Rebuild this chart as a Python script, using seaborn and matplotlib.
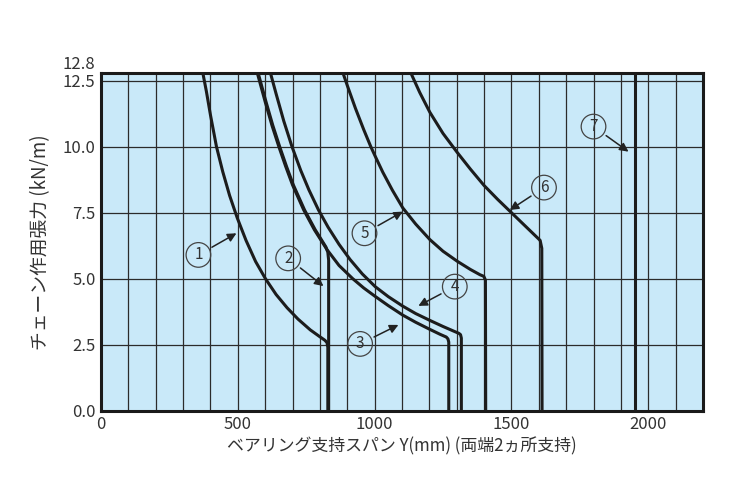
import numpy as np
import pandas as pd
import matplotlib
matplotlib.use("Agg")
import matplotlib.pyplot as plt
import seaborn as sns

# ---- data ----
c1_span = [372, 385, 400, 422, 445, 470, 498, 530, 565, 601, 640, 680, 720, 765, 800, 818, 826, 829, 829]
c1_tens = [12.8, 12.1, 11.2, 10.0, 9.05, 8.15, 7.3, 6.45, 5.65, 5.0, 4.4, 3.9, 3.47, 3.06, 2.8, 2.67, 2.58, 2.4, 0.0]

c2_span = [574, 603, 628, 653, 678, 703, 744, 783, 810, 822, 829, 832, 832]
c2_tens = [12.8, 11.7, 10.8, 10.0, 9.25, 8.55, 7.6, 6.85, 6.4, 6.2, 6.0, 5.7, 0.0]

c3_span = [571, 600, 625, 650, 675, 700, 741, 780, 826, 870, 920, 960, 1002, 1050, 1103, 1150, 1202, 1240, 1262, 1268, 1271, 1271]
c3_tens = [12.8, 11.7, 10.8, 10.0, 9.25, 8.55, 7.6, 6.85, 6.1, 5.5, 5.0, 4.65, 4.33, 3.98, 3.62, 3.35, 3.08, 2.89, 2.79, 2.72, 2.6, 0.0]

c4_span = [619, 640, 668, 698, 730, 760, 795, 830, 870, 910, 955, 1002, 1050, 1103, 1150, 1202, 1250, 1290, 1308, 1314, 1317, 1317]
c4_tens = [12.8, 12.0, 10.97, 10.0, 9.1, 8.36, 7.6, 6.95, 6.3, 5.73, 5.18, 4.70, 4.32, 3.96, 3.68, 3.42, 3.19, 3.01, 2.93, 2.88, 2.75, 0.0]

c5_span = [884, 901, 930, 960, 986, 1002, 1030, 1065, 1103, 1150, 1202, 1250, 1302, 1350, 1385, 1399, 1405, 1406]
c5_tens = [12.8, 12.29, 11.45, 10.65, 10.0, 9.64, 9.03, 8.35, 7.68, 7.07, 6.48, 6.04, 5.66, 5.35, 5.15, 5.09, 4.95, 0.0]

c6_span = [1132, 1165, 1202, 1250, 1302, 1350, 1400, 1450, 1500, 1550, 1590, 1605, 1611, 1612]
c6_tens = [12.8, 12.05, 11.3, 10.5, 9.78, 9.15, 8.53, 8.0, 7.5, 7.0, 6.6, 6.45, 6.15, 0.0]

c7_span = [1950, 1950]
c7_tens = [12.8, 0.0]

curve_ids = ["1", "2", "3", "4", "5", "6", "7"]

# label (circle) positions and arrow tips, in data units
label_x = [356, 684, 947, 1293, 963, 1619, 1800]
label_y = [5.9, 5.77, 2.53, 4.7, 6.72, 8.45, 10.76]
tip_x = [495, 813, 1087, 1160, 1103, 1494, 1928]
tip_y = [6.72, 4.72, 3.25, 3.97, 7.54, 7.6, 9.81]

x_ticks = [0, 500, 1000, 1500, 2000]
y_ticks = [0.0, 2.5, 5.0, 7.5, 10.0, 12.5, 12.8]
y_tick_labels = ["0.0", "2.5", "5.0", "7.5", "10.0", "12.5", "12.8"]

x_label = "ベアリング支持スパン Y(mm) (両端2ヵ所支持)"
y_label = "チェーン作用張力 (kN/m)"

# ---- build table ----
spans = [c1_span, c2_span, c3_span, c4_span, c5_span, c6_span, c7_span]
tens = [c1_tens, c2_tens, c3_tens, c4_tens, c5_tens, c6_tens, c7_tens]
frames = []
for cid, xs, ys in zip(curve_ids, spans, tens):
    frames.append(pd.DataFrame({"span": xs, "tension": ys, "curve": cid}))
df = pd.concat(frames, ignore_index=True)

sns.set_theme(style="white")
plt.rcParams["font.family"] = ["Noto Sans CJK JP", "DejaVu Sans"]

fig, ax = plt.subplots(figsize=(7.33, 4.97), dpi=100)
fig.subplots_adjust(left=0.1378, right=0.959, top=0.8537, bottom=0.1736)
ax.set_facecolor("#c9e9f9")

sns.lineplot(data=df, x="span", y="tension", units="curve", estimator=None,
             sort=False, color="#1c1c1c", linewidth=2.2, ax=ax, legend=False,
             zorder=3)

ax.set_xlim(0, 2200)
ax.set_ylim(0, 12.8)
ax.set_xticks(x_ticks)
ax.set_xticks(np.arange(0, 2201, 100), minor=True)
ax.set_yticks(y_ticks)
ax.set_yticklabels(y_tick_labels)
ax.get_yticklabels()[-1].set_va("bottom")
ax.set_axisbelow(True)
ax.grid(True, which="both", axis="x", color="#2b2b2b", linewidth=0.9)
ax.grid(True, which="major", axis="y", color="#2b2b2b", linewidth=0.9)
ax.tick_params(axis="both", which="both", length=0, labelsize=12,
               labelcolor="#333333", pad=4)
for s in ax.spines.values():
    s.set_color("#1a1a1a")
    s.set_linewidth(2.2)

ax.set_xlabel(x_label, fontsize=12.2, color="#333333", labelpad=3)
ax.set_ylabel(y_label, fontsize=13.5, color="#333333", labelpad=8)

for cid, lx, ly, tx, ty in zip(curve_ids, label_x, label_y, tip_x, tip_y):
    ax.annotate(cid, xy=(tx, ty), xytext=(lx, ly), textcoords="data",
                ha="center", va="center", fontsize=11, color="#333333",
                bbox=dict(boxstyle="circle,pad=0.25", fc="none", ec="#444444", lw=0.9),
                arrowprops=dict(arrowstyle="-|>", color="#222222", lw=1.1,
                                mutation_scale=13, shrinkA=2, shrinkB=0),
                zorder=5)

fig.savefig("out.png", dpi=100)
